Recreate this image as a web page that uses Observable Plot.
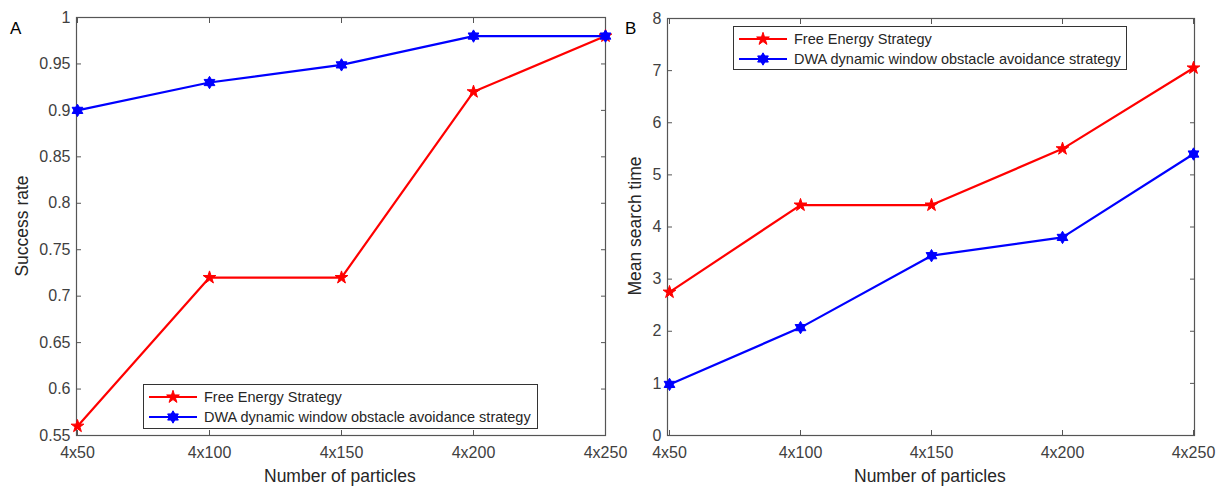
<!DOCTYPE html>
<html>
<head>
<meta charset="utf-8">
<script src="https://cdn.jsdelivr.net/npm/d3@7"></script>
<script src="https://cdn.jsdelivr.net/npm/@observablehq/plot@0.6"></script>
<style>
  html, body { margin: 0; padding: 0; background: #fff; }
  #wrap { position: relative; width: 1216px; height: 486px; overflow: hidden; font-family: "Liberation Sans", Arial, sans-serif; color: #262626; }
  .panel { position: absolute; top: 0; }
  .panel svg { overflow: visible; }
  .title { position: absolute; font-size: 17.5px; color: #262626; white-space: nowrap; }
  .ytitle { position: absolute; font-size: 17.5px; color: #262626; white-space: nowrap; transform: translate(-50%, -50%) rotate(-90deg); }
  .plabel { position: absolute; font-size: 17px; color: #000; }
  .legend { position: absolute; background: #fff; border: 1px solid #333; box-sizing: border-box; font-size: 14.5px; color: #262626; padding: 2px 0 0 4px; }
  .legend .row { display: flex; align-items: center; height: 20px; white-space: nowrap; }
  .legend svg { margin-right: 4px; }
</style>
</head>
<body>
<div id="wrap"></div>
<script>
// ---- data ----
const categories = ["4x50", "4x100", "4x150", "4x200", "4x250"];
const seriesNames = ["Free Energy Strategy", "DWA dynamic window obstacle avoidance strategy"];
const successFree = [0.56, 0.72, 0.72, 0.92, 0.98];
const successDWA = [0.90, 0.93, 0.949, 0.98, 0.98];
const timeFree = [2.75, 4.42, 4.42, 5.5, 7.05];
const timeDWA = [0.98, 2.07, 3.45, 3.8, 5.4];
const ticksA = [0.55, 0.6, 0.65, 0.7, 0.75, 0.8, 0.85, 0.9, 0.95, 1];
const ticksB = [0, 1, 2, 3, 4, 5, 6, 7, 8];
const colors = ["#ff0000", "#0000ff"];

// hexagram (six-pointed star) symbol
const hexagram = {
  draw(ctx, size) {
    const r = Math.sqrt(size / Math.PI) * 1.55;
    for (const off of [-90, 90]) {
      for (let i = 0; i < 3; i++) {
        const a = (off + i * 120) * Math.PI / 180;
        const x = r * Math.cos(a), y = r * Math.sin(a);
        if (i === 0) ctx.moveTo(x, y); else ctx.lineTo(x, y);
      }
      ctx.closePath();
    }
  }
};

function table(a, b) {
  const rows = [];
  categories.forEach((c, i) => rows.push({x: c, y: a[i], s: seriesNames[0]}));
  categories.forEach((c, i) => rows.push({x: c, y: b[i], s: seriesNames[1]}));
  return rows;
}

const axisColor = "#555";
const textColor = "#404040";

function panel({data, yDomain, yTicks, width, ml, mr, mt, mb, fmt}) {
  const free = data.filter(d => d.s === seriesNames[0]);
  const dwa = data.filter(d => d.s === seriesNames[1]);
  return Plot.plot({
    width, height: 486,
    marginLeft: ml, marginRight: mr, marginTop: mt, marginBottom: mb,
    style: {fontFamily: "Liberation Sans, Arial, sans-serif", fontSize: "16px", color: textColor, background: "transparent", overflow: "visible"},
    x: {type: "point", domain: categories, padding: 0, axis: null},
    y: {domain: yDomain, axis: null},
    marks: [
      Plot.frame({stroke: axisColor, strokeWidth: 1.2}),
      Plot.axisX({anchor: "bottom", tickSize: -5, tickFormat: () => "", stroke: axisColor, label: null}),
      Plot.axisX({anchor: "top", tickSize: -5, tickFormat: () => "", stroke: axisColor, label: null}),
      Plot.axisY(yTicks, {anchor: "left", tickSize: -5, tickFormat: () => "", stroke: axisColor, label: null}),
      Plot.axisY(yTicks, {anchor: "right", tickSize: -5, tickFormat: () => "", stroke: axisColor, label: null}),
      Plot.axisX({anchor: "bottom", tickSize: 0, tickPadding: 11, fill: textColor, label: null, fontSize: 16}),
      Plot.axisY(yTicks, {anchor: "left", tickSize: 0, tickPadding: 6, fill: textColor, label: null, tickFormat: fmt, fontSize: 16}),
      Plot.line(free, {x: "x", y: "y", stroke: colors[0], strokeWidth: 2.2}),
      Plot.dot(free, {x: "x", y: "y", symbol: "star", r: 4, fill: colors[0], stroke: colors[0], strokeWidth: 1}),
      Plot.line(dwa, {x: "x", y: "y", stroke: colors[1], strokeWidth: 2.2}),
      Plot.dot(dwa, {x: "x", y: "y", symbol: hexagram, r: 4, fill: colors[1], stroke: colors[1], strokeWidth: 1})
    ]
  });
}

const wrap = document.getElementById("wrap");

function place(el, left) {
  const d = document.createElement("div");
  d.className = "panel";
  d.style.left = left + "px";
  d.appendChild(el);
  wrap.appendChild(d);
}

const pA = panel({data: table(successFree, successDWA), yDomain: [0.55, 1], yTicks: ticksA,
  width: 620, ml: 76, mr: 15, mt: 17, mb: 51, fmt: d => String(+d.toFixed(2))});
place(pA, 0);

const pB = panel({data: table(timeFree, timeDWA), yDomain: [0, 8], yTicks: ticksB,
  width: 606, ml: 57, mr: 22, mt: 18, mb: 51, fmt: d => String(d)});
place(pB, 610);

function addText(cls, text, css) {
  const d = document.createElement("div");
  d.className = cls;
  d.textContent = text;
  Object.assign(d.style, css);
  wrap.appendChild(d);
  return d;
}

// axis titles
const tA = addText("title", "Number of particles", {top: "466px"});
tA.style.left = (340 - tA.offsetWidth / 2) + "px";
const tB = addText("title", "Number of particles", {top: "466px"});
tB.style.left = (930 - tB.offsetWidth / 2) + "px";
addText("ytitle", "Success rate", {left: "22px", top: "226px"});
addText("ytitle", "Mean search time", {left: "635px", top: "226px"});
addText("plabel", "A", {left: "10px", top: "19px"});
addText("plabel", "B", {left: "625px", top: "19px"});

// legends
function legend(left, top, width, height) {
  const L = document.createElement("div");
  L.className = "legend";
  Object.assign(L.style, {left: left + "px", top: top + "px", width: width + "px", height: height + "px"});
  seriesNames.forEach((name, i) => {
    const row = document.createElement("div");
    row.className = "row";
    const svg = d3.create("svg").attr("width", 52).attr("height", 16);
    svg.append("line").attr("x1", 1).attr("x2", 49).attr("y1", 8).attr("y2", 8)
      .attr("stroke", colors[i]).attr("stroke-width", 2.2);
    const sym = i === 0 ? d3.symbol(d3.symbolStar, 50) : d3.symbol(hexagram, 50);
    svg.append("path").attr("d", sym()).attr("transform", "translate(25,8)")
      .attr("fill", colors[i]).attr("stroke", colors[i]);
    row.appendChild(svg.node());
    const t = document.createElement("span");
    t.textContent = name;
    row.appendChild(t);
    L.appendChild(row);
  });
  wrap.appendChild(L);
}
legend(143, 384, 395, 45);
legend(733, 26, 394, 44);
</script>
</body>
</html>
